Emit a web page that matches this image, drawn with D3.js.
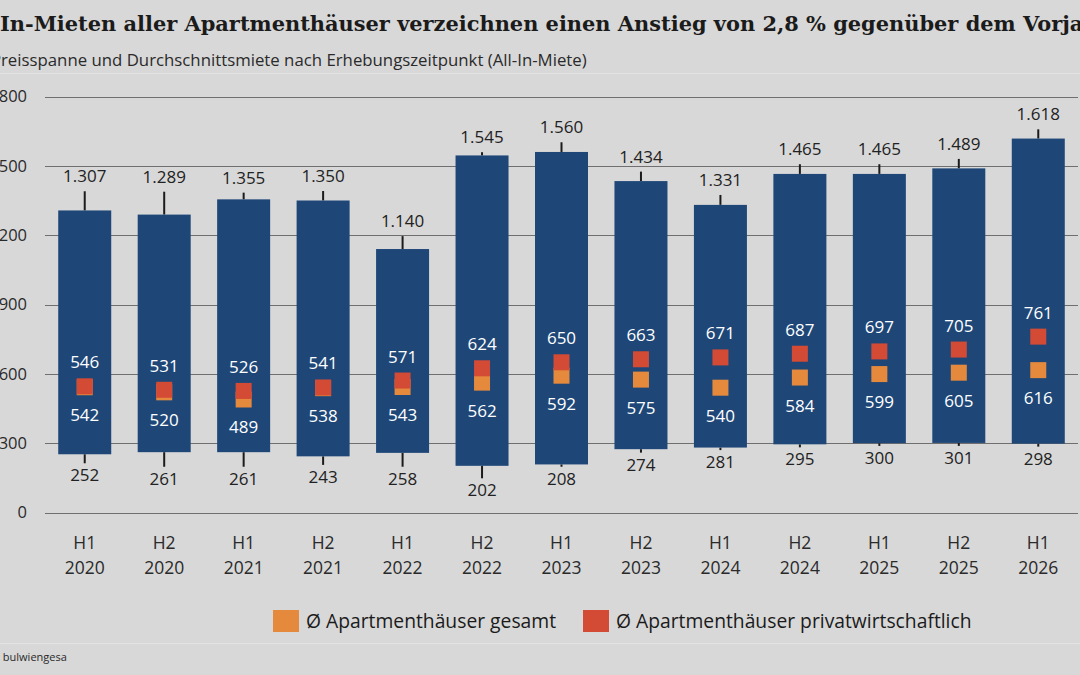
<!DOCTYPE html>
<html lang="de">
<head>
<meta charset="UTF-8">
<title>All-In-Mieten Apartmenthäuser</title>
<style>
  body { margin: 0; overflow: hidden; background: #d8d8d8; }
  svg  { display: block; }
  text { font-family: "Open Sans", sans-serif; }
  .title { font-family: "DejaVu Serif", serif; font-weight: bold; fill: #1b1b1b; }
  .sub   { fill: #2a2a2a; }
  .tick  { font-size: 16.5px; fill: #2a2a2a; }
  .xlab  { font-size: 17.5px; fill: #2a2a2a; text-anchor: middle; }
  .val   { font-size: 17px; fill: #222; text-anchor: middle; }
  .inval { font-size: 17px; fill: #fff; text-anchor: middle; }
  .leg   { font-size: 19.3px; fill: #1b1b1b; }
  .src   { fill: #2a2a2a; }
</style>
</head>
<body>
<svg id="chart" width="1080" height="675"></svg>

<script src="https://d3js.org/d3.v7.min.js"></script>
<script>
/* ---------------- Data ---------------- */
const periods       = ["H1 2020","H2 2020","H1 2021","H2 2021","H1 2022","H2 2022","H1 2023",
                       "H2 2023","H1 2024","H2 2024","H1 2025","H2 2025","H1 2026"];
const maxRent       = [1307, 1289, 1355, 1350, 1140, 1545, 1560, 1434, 1331, 1465, 1465, 1489, 1618];
const minRent       = [252, 261, 261, 243, 258, 202, 208, 274, 281, 295, 300, 301, 298];
const whiskerTop    = [1390, 1388, 1384, 1391, 1196, 1559, 1602, 1475, 1374, 1507, 1507, 1530, 1658];
const whiskerBottom = [213, 198, 198, 206, 198, 148, 198, 259, 270, 282, 288, 288, 285];
const avgPrivate    = [546, 531, 526, 541, 571, 624, 650, 663, 671, 687, 697, 705, 761];
const avgTotal      = [542, 520, 489, 538, 543, 562, 592, 575, 540, 584, 599, 605, 616];
const yTicks        = [0, 300, 600, 900, 1200, 1500, 1800];
const legendItems   = ["Ø Apartmenthäuser gesamt", "Ø Apartmenthäuser privatwirtschaftlich"];

const COL_BAR = "#1e4778", COL_TOTAL = "#e5893c", COL_PRIV = "#d34a35";

const de = d3.formatLocale({decimal: ",", thousands: ".", grouping: [3], currency: ["", " €"]});
const fmt = de.format(",d");

/* ---------------- Setup ---------------- */
const W = 1080, H = 675;
const svg = d3.select("#chart");
svg.append("rect").attr("width", W).attr("height", H).attr("fill", "#d8d8d8");

// faint separators
svg.append("line").attr("x1", 0).attr("x2", W).attr("y1", 73.5).attr("y2", 73.5)
  .attr("stroke", "#e3e3e3").attr("stroke-width", 1);
svg.append("line").attr("x1", 0).attr("x2", W).attr("y1", 643.5).attr("y2", 643.5)
  .attr("stroke", "#e3e3e3").attr("stroke-width", 1);

/* ---- header (cropped at the left, like the source) ---- */
function cropText(cls, full, hidden, x0, baseline, size) {
  const t = svg.append("text").attr("class", cls).attr("y", baseline).style("font-size", size + "px");
  const probe = svg.append("text").attr("class", cls).style("font-size", size + "px").text(hidden);
  const off = probe.node().getComputedTextLength();
  probe.remove();
  t.attr("x", x0 - off).text(full);
  return t;
}

// size the title so the visible part fills the width
const titleFull = "All-In-Mieten aller Apartmenthäuser verzeichnen einen Anstieg von 2,8 % gegenüber dem Vorjahr";
const visible = "In-Mieten aller Apartmenthäuser verzeichnen einen Anstieg von 2,8 % gegenüber dem Vorja";
const probeT = svg.append("text").attr("class", "title").style("font-size", "24px").text(visible);
const titleSize = 24 * 1084 / probeT.node().getComputedTextLength();
probeT.remove();
cropText("title", titleFull, "All-", 0, 31, titleSize);
cropText("sub", "Preisspanne und Durchschnittsmiete nach Erhebungszeitpunkt (All-In-Miete)", "P", 1, 66, 16.8);
cropText("src", "Quelle: bulwiengesa", "Quelle: ", 0, 661, 11);

/* ---------------- Scales ---------------- */
const x = d3.scaleBand().domain(periods).range([45, 1078]).paddingInner(0.333).paddingOuter(0.1665);
const y = d3.scaleLinear().domain([0, 1800]).range([512.5, 96.5]);

/* ---- gridlines + y labels ---- */
const grid = svg.append("g");
grid.selectAll("line").data(yTicks).enter().append("line")
  .attr("x1", 45).attr("x2", 1078)
  .attr("y1", d => Math.round(y(d)) + 0.5).attr("y2", d => Math.round(y(d)) + 0.5)
  .attr("stroke", "#6f6f6f").attr("stroke-width", 1);
grid.selectAll("text").data(yTicks).enter().append("text")
  .attr("class", "tick").attr("text-anchor", "end")
  .attr("x", 27).attr("y", d => y(d)).attr("dy", "0.36em")
  .text(d => fmt(d));

/* ---- x labels ---- */
const xl = svg.append("g").selectAll("text").data(periods).enter().append("text")
  .attr("class", "xlab").attr("x", d => x(d) + x.bandwidth() / 2).attr("y", 549);
xl.append("tspan").text(d => d.split(" ")[0]);
xl.append("tspan").attr("x", d => x(d) + x.bandwidth() / 2).attr("dy", 25).text(d => d.split(" ")[1]);

/* ---- whiskers ---- */
const cx = i => x(periods[i]) + x.bandwidth() / 2;
const wh = svg.append("g").attr("stroke", "#1b1b1b").attr("stroke-width", 2);
periods.forEach((p, i) => {
  wh.append("line").attr("x1", cx(i)).attr("x2", cx(i)).attr("y1", y(maxRent[i])).attr("y2", y(whiskerTop[i]));
  wh.append("line").attr("x1", cx(i)).attr("x2", cx(i)).attr("y1", y(minRent[i])).attr("y2", y(whiskerBottom[i]));
});

/* ---- range bars ---- */
svg.append("g").selectAll("rect").data(periods).enter().append("rect")
  .attr("x", d => x(d)).attr("width", x.bandwidth())
  .attr("y", (d, i) => y(maxRent[i]))
  .attr("height", (d, i) => y(minRent[i]) - y(maxRent[i]))
  .attr("fill", COL_BAR);

/* ---- average markers ---- */
const MS = 16;
svg.append("g").selectAll("rect").data(avgTotal).enter().append("rect")
  .attr("x", (d, i) => cx(i) - MS / 2).attr("y", d => y(d) - MS / 2)
  .attr("width", MS).attr("height", MS).attr("fill", COL_TOTAL);
svg.append("g").selectAll("rect").data(avgPrivate).enter().append("rect")
  .attr("x", (d, i) => cx(i) - MS / 2).attr("y", d => y(d) - MS / 2)
  .attr("width", MS).attr("height", MS).attr("fill", COL_PRIV);

/* ---- labels ---- */
const lab = svg.append("g");
lab.selectAll(".top").data(maxRent).enter().append("text").attr("class", "val")
  .attr("x", (d, i) => cx(i)).attr("y", (d, i) => y(whiskerTop[i]) - 9).text(d => fmt(d));
lab.selectAll(".bot").data(minRent).enter().append("text").attr("class", "val")
  .attr("x", (d, i) => cx(i)).attr("y", (d, i) => y(whiskerBottom[i]) + 18).text(d => fmt(d));
lab.selectAll(".priv").data(avgPrivate).enter().append("text").attr("class", "inval")
  .attr("x", (d, i) => cx(i)).attr("y", d => y(d) - 18).text(d => fmt(d));
lab.selectAll(".tot").data(avgTotal).enter().append("text").attr("class", "inval")
  .attr("x", (d, i) => cx(i)).attr("y", d => y(d) + 34).text(d => fmt(d));

/* ---- legend ---- */
const legX = [273, 583], legCol = [COL_TOTAL, COL_PRIV];
const leg = svg.append("g");
legendItems.forEach((name, i) => {
  leg.append("rect").attr("x", legX[i]).attr("y", 610).attr("width", 26).attr("height", 22).attr("fill", legCol[i]);
  leg.append("text").attr("class", "leg").attr("x", legX[i] + 33).attr("y", 628).text(name);
});
</script>
</body>
</html>
